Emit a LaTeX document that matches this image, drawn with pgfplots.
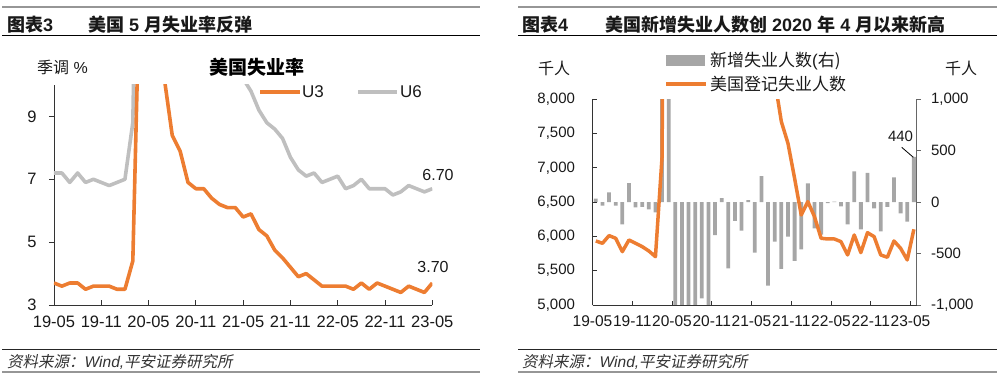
\documentclass[border=0pt]{standalone}
\usepackage{fontspec}
\usepackage{pgfplots}
\usepackage{pgfplotstable}
\pgfplotsset{compat=1.18}
\setmainfont{Liberation Sans}
\newfontfamily\cjk{Noto Sans CJK SC}
\newfontfamily\cjkit{Noto Sans CJK SC}[FakeSlant=0.2]
\definecolor{uorange}{RGB}{237,125,49}
\definecolor{ugrey}{RGB}{191,191,191}
\definecolor{bgrey}{RGB}{166,166,166}
\definecolor{rulegrey}{RGB}{150,150,150}
\newcommand{\fs}[1]{\fontsize{#1}{#1}\selectfont}

\pgfplotstableread{
i u3 u6
0 3.7 7.2
1 3.6 7.2
2 3.7 6.9
3 3.7 7.2
4 3.5 6.9
5 3.6 7.0
6 3.6 6.9
7 3.6 6.8
8 3.5 6.9
9 3.5 7.0
10 4.4 8.8
11 14.7 22.9
12 13.2 21.2
13 11.0 18.0
14 10.2 16.5
15 8.4 14.2
16 7.9 12.8
17 6.9 12.1
18 6.7 12.0
19 6.7 11.7
20 6.4 11.1
21 6.2 11.1
22 6.1 10.7
23 6.1 10.4
24 5.8 10.2
25 5.9 9.8
26 5.4 9.2
27 5.2 8.8
28 4.75 8.6
29 4.5 8.3
30 4.2 7.7
31 3.9 7.3
32 4.0 7.1
33 3.8 7.2
34 3.6 6.9
35 3.6 7.0
36 3.6 7.1
37 3.6 6.7
38 3.5 6.8
39 3.7 7.0
40 3.5 6.7
41 3.7 6.7
42 3.6 6.7
43 3.5 6.5
44 3.4 6.6
45 3.6 6.8
46 3.5 6.7
47 3.4 6.6
48 3.7 6.7
}\udata

\pgfplotstableread{
i chg lvl
0 35 5934
1 -35 5900
2 95 6012
3 -35 5973
4 -215 5778
5 185 5948
6 -50 5900
7 -45 5851
8 -70 5788
9 -100 5705
10 1460 7164
11 15900 23080
12 -2100 20990
13 -3300 17700
14 -1400 16300
15 -2770 13550
16 -935 12600
17 -1490 11100
18 -320 10780
19 38 10820
20 -643 10180
21 -183 10000
22 -277 9720
23 20 9740
24 -490 9250
25 254 9500
26 -811 8690
27 -384 8280
28 -649 7674
29 -335 7358
30 -571 6848
31 -458 6313
32 183 6508
33 -255 6289
34 -316 5973
35 -10 5963
36 5 5963
37 -40 5924
38 -215 5730
39 300 6021
40 -265 5764
41 285 6055
42 -60 5997
43 -285 5730
44 -45 5696
45 242 5934
46 -110 5827
47 -190 5657
48 440 6104
}\rdata

\begin{document}
\begin{tikzpicture}[x=1pt,y=1pt]
\useasboundingbox (0,0) rectangle (1000,383);
% rules
\foreach \a/\b in {2/480,518/997}{
  \draw[rulegrey, line width=2.2pt] (\a,375.7) -- (\b,375.7);
  \draw[black, line width=0.9pt] (\a,347.3) -- (\b,347.3);
  \draw[black!85, line width=0.9pt] (\a,33.7) -- (\b,33.7);
  \draw[rulegrey, line width=2.2pt] (\a,11.3) -- (\b,11.3);
}
% titles
\node[anchor=west, inner sep=0pt, text=black!90] at (7,358) {\fs{18}{\cjk\bfseries 图表}{\bfseries 3}};
\node[anchor=west, inner sep=0pt, text=black!90] at (88,358) {\fs{18}{\cjk\bfseries 美国} {\bfseries 5} {\cjk\bfseries 月失业率反弹}};
\node[anchor=west, inner sep=0pt, text=black!90] at (522,358) {\fs{18}{\cjk\bfseries 图表}{\bfseries 4}};
\node[anchor=west, inner sep=0pt, text=black!90] at (605,358) {\fs{18}{\cjk\bfseries 美国新增失业人数创} {\bfseries 2020} {\cjk\bfseries 年} {\bfseries 4} {\cjk\bfseries 月以来新高}};
% footers
\node[anchor=west, inner sep=0pt, text=black!80] at (7,21.3) {\fs{15.5}{\cjkit 资料来源：}{\itshape Wind,}{\cjkit 平安证券研究所}};
\node[anchor=west, inner sep=0pt, text=black!80] at (522,21.3) {\fs{15.5}{\cjkit 资料来源：}{\itshape Wind,}{\cjkit 平安证券研究所}};

% ---------- left chart ----------
\begin{axis}[
  at={(54pt,78pt)}, anchor=south west, scale only axis,
  width=378.3pt, height=220pt,
  xmin=0, xmax=48, ymin=3, ymax=10,
  axis x line*=bottom, axis y line*=left,
  axis line style={-, black!80, line width=0.9pt},
  xtick={0,6,...,48},
  xticklabels={19-05,19-11,20-05,20-11,21-05,21-11,22-05,22-11,23-05},
  ytick={3,5,7,9}, yticklabels={3,5,7,9},
  major tick length=5pt,
  xtick align=inside, ytick align=outside,
  tick style={black!80, line width=0.9pt},
  xticklabel style={font=\fs{16.5}, text=black!90, yshift=-7pt},
  yticklabel style={font=\fs{16.5}, text=black!90, xshift=-9pt},
  clip mode=individual,
]
\addplot[ugrey, line width=3.6pt, line join=round] table[x=i,y=u6]{\udata};
\addplot[uorange, line width=3.6pt, line join=round] table[x=i,y=u3]{\udata};
\end{axis}
\node[anchor=west, inner sep=0pt, text=black!90] at (37,316) {\fs{16}{\cjk 季调} \%};
\node[inner sep=0pt, text=black] at (257,316) {\fs{19}\cjk\bfseries 美国失业率};
\draw[uorange, line width=3.6pt] (260,291) -- (300,291);
\node[anchor=west, inner sep=0pt, text=black!90] at (302,291) {\fs{17}U3};
\draw[ugrey, line width=3.6pt] (358,291) -- (397,291);
\node[anchor=west, inner sep=0pt, text=black!90] at (400,291) {\fs{17}U6};
\node[inner sep=0pt, text=black!90] at (438,208) {\fs{16}6.70};
\node[inner sep=0pt, text=black!90] at (433,116) {\fs{16}3.70};

% ---------- right chart ----------
\begin{axis}[
  at={(592.5pt,78pt)}, anchor=south west, scale only axis,
  width=324pt, height=205.7pt,
  xmin=-0.5, xmax=48.4, ymin=-1000, ymax=1000,
  axis x line=none, axis y line*=right,
  axis line style={-, black!60, line width=0.9pt},
  ytick={-1000,-500,0,500,1000},
  yticklabels={{-1,000},{-500},{0},{500},{1,000}},
  ytick align=outside, major tick length=4pt,
  tick style={black!60, line width=0.9pt},
  yticklabel style={font=\fs{15}, text=black!90, xshift=7pt},
  ybar, bar width=3.8pt,
]
\addplot[fill=bgrey, draw=none, bar shift=0pt] table[x=i,y=chg]{\rdata};
\end{axis}
\begin{axis}[
  at={(592.5pt,78pt)}, anchor=south west, scale only axis,
  width=324pt, height=205.7pt,
  xmin=-0.5, xmax=48.4, ymin=5000, ymax=8000,
  axis x line*=bottom, axis y line*=left,
  axis line style={-, black!80, line width=0.9pt},
  xtick={-0.5,5.5,...,47.5},
  xticklabels={19-05,19-11,20-05,20-11,21-05,21-11,22-05,22-11,23-05},
  ytick={5000,5500,...,8000},
  yticklabels={{5,000},{5,500},{6,000},{6,500},{7,000},{7,500},{8,000}},
  major tick length=4pt,
  xtick align=inside, ytick align=inside,
  tick style={black!80, line width=0.9pt},
  xticklabel style={font=\fs{15.5}, text=black!90, yshift=-7pt},
  yticklabel style={font=\fs{15}, text=black!90, xshift=-14pt},
]
\addplot[uorange, line width=3.5pt, line join=round] table[x=i,y=lvl]{\rdata};
\end{axis}
\node[anchor=west, inner sep=0pt, text=black!90] at (538,315) {\fs{16}\cjk 千人};
\node[anchor=west, inner sep=0pt, text=black!90] at (945,315) {\fs{16}\cjk 千人};
\fill[bgrey] (666,317) rectangle (705,327.5);
\node[anchor=west, inner sep=0pt, text=black!90] at (710,322) {\fs{17}{\cjk 新增失业人数}(\cjk 右)};
\draw[uorange, line width=3.5pt] (666,299) -- (706,299);
\node[anchor=west, inner sep=0pt, text=black!90] at (710,299) {\fs{17}\cjk 美国登记失业人数};
\node[inner sep=0pt, text=black!90] at (900.5,246.3) {\fs{15}440};
\draw[black, line width=0.8pt] (901.7,235.7) -- (913.3,225.7);
\end{tikzpicture}
\end{document}
